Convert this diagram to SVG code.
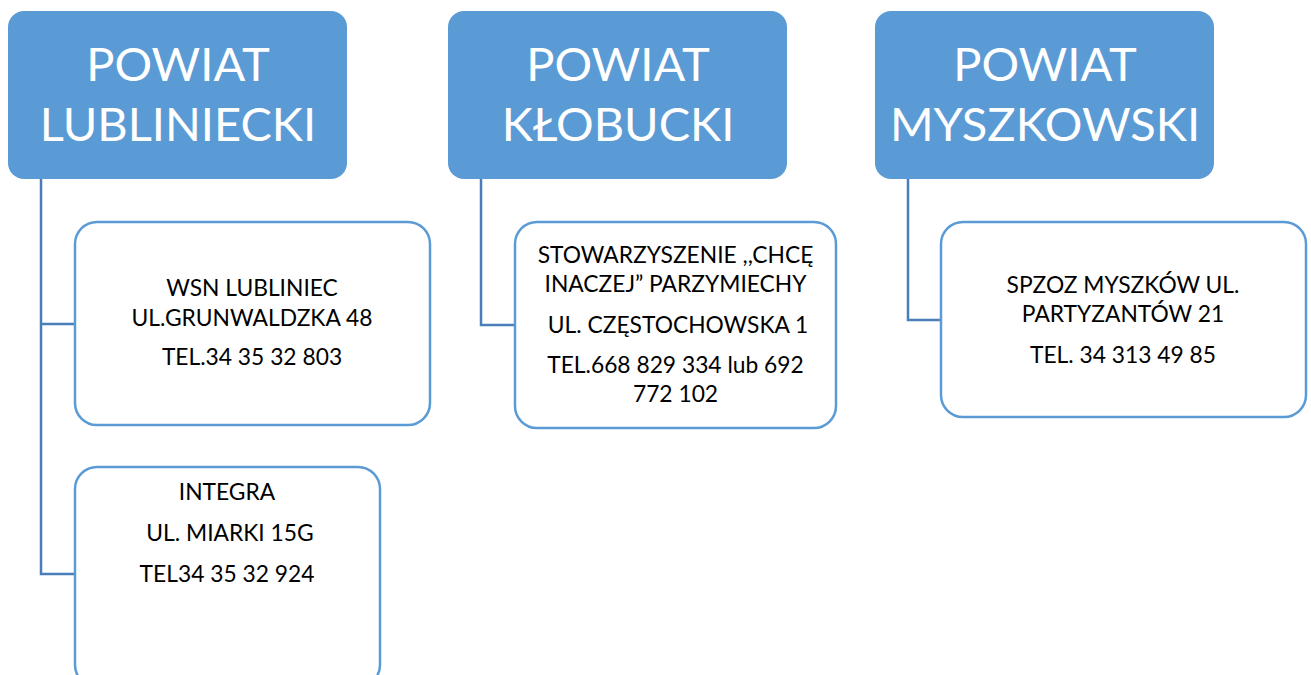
<svg xmlns="http://www.w3.org/2000/svg" width="1311" height="675" viewBox="0 0 1311 675">
<style>
.head{fill:#5B9BD5;}
.ht{fill:#FFFFFF;font-family:Lato,"Open Sans","Liberation Sans",sans-serif;font-size:47px;text-anchor:middle;}
.child{fill:#FFFFFF;stroke:#5B9BD5;stroke-width:2.5;}
.ct{fill:#000000;font-family:Lato,"Open Sans","Liberation Sans",sans-serif;font-size:22.8px;text-anchor:middle;}
.conn{fill:none;stroke:#4A7EBB;stroke-width:2.5;}
</style>
<rect width="1311" height="675" fill="#FFFFFF"/>
<g id="connectors">
<path class="conn" d="M41,179 V574 H75 M41,324 H75"/>
<path class="conn" d="M481,179 V325 H515"/>
<path class="conn" d="M908,179 V320 H941"/>
</g>
<g id="powiat-lubliniecki">
<rect class="head" x="8" y="11" width="339" height="168" rx="16"/>
<text class="ht" x="178" y="81">POWIAT</text>
<text class="ht" x="178" y="141">LUBLINIECKI</text>
</g>
<g id="powiat-klobucki">
<rect class="head" x="448" y="11" width="339" height="168" rx="16"/>
<text class="ht" x="618" y="81">POWIAT</text>
<text class="ht" x="618" y="141">KŁOBUCKI</text>
</g>
<g id="powiat-myszkowski">
<rect class="head" x="875" y="11" width="339" height="168" rx="16"/>
<text class="ht" x="1045" y="81">POWIAT</text>
<text class="ht" x="1045" y="141">MYSZKOWSKI</text>
</g>
<g id="wsn-lubliniec">
<rect class="child" x="75" y="222" width="355" height="203" rx="22"/>
<text class="ct" x="252" y="296">WSN LUBLINIEC</text>
<text class="ct" x="252" y="326">UL.GRUNWALDZKA 48</text>
<text class="ct" x="252" y="365">TEL.34 35 32 803</text>
</g>
<g id="integra">
<rect class="child" x="75" y="467" width="305" height="220" rx="22"/>
<text class="ct" x="227" y="500">INTEGRA</text>
<text class="ct" x="230" y="541">UL. MIARKI 15G</text>
<text class="ct" x="227" y="582">TEL34 35 32 924</text>
</g>
<g id="stowarzyszenie">
<rect class="child" x="515" y="222" width="321" height="206" rx="22"/>
<text class="ct" x="675.5" y="263">STOWARZYSZENIE ,,CHCĘ</text>
<text class="ct" x="675.5" y="292">INACZEJ” PARZYMIECHY</text>
<text class="ct" x="678" y="333">UL. CZĘSTOCHOWSKA 1</text>
<text class="ct" x="675.5" y="373">TEL.668 829 334 lub 692</text>
<text class="ct" x="675.5" y="402">772 102</text>
</g>
<g id="spzoz-myszkow">
<rect class="child" x="941" y="222" width="365" height="195" rx="22"/>
<text class="ct" x="1123" y="293">SPZOZ MYSZKÓW UL.</text>
<text class="ct" x="1123" y="322">PARTYZANTÓW 21</text>
<text class="ct" x="1123" y="363">TEL. 34 313 49 85</text>
</g>
</svg>
